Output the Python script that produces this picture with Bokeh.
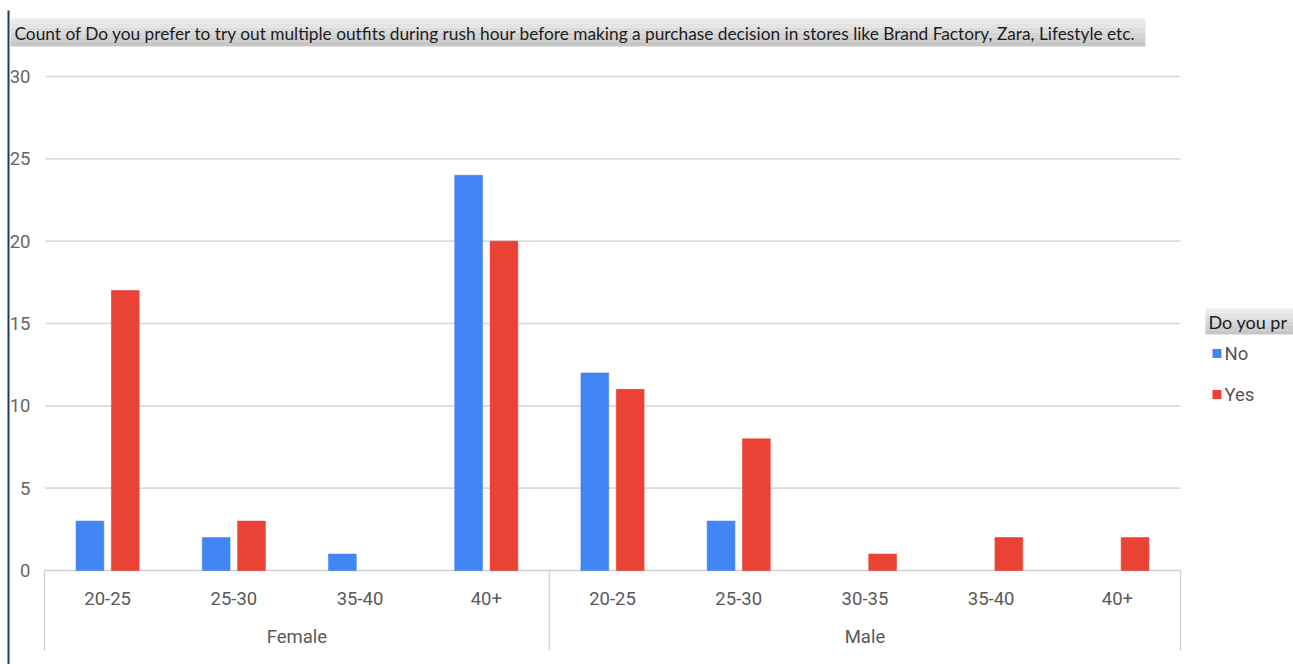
from bokeh.plotting import figure
from bokeh.models import Range1d
from bokeh.core.properties import value
from bokeh.embed import file_html
from bokeh.resources import INLINE

# ---- data -------------------------------------------------------------
genders = ["Female", "Male"]
female_ages = ["20-25", "25-30", "35-40", "40+"]
male_ages = ["20-25", "25-30", "30-35", "35-40", "40+"]
female_no = [3, 2, 1, 24]
female_yes = [17, 3, 0, 20]
male_no = [12, 3, 0, 0, 0]
male_yes = [11, 8, 1, 2, 2]
y_ticks = [0, 5, 10, 15, 20, 25, 30]
series_names = ["No", "Yes"]
series_colors = ["#4285F4", "#EA4335"]
title_text = ("Count of Do you prefer to try out multiple outfits during rush hour before "
              "making a purchase decision in stores like Brand Factory, Zara, Lifestyle etc.")
legend_title = "Do you pr"

# ---- canvas geometry (pixels) ----------------------------------------
W, H = 1293, 664
PX0, PX1 = 44, 1180          # plot area left / right
PY0, PYT = 570, 76           # pixel row of value 0 and of value 30
ncat = len(female_ages) + len(male_ages)
UX = (PX1 - PX0) / ncat
UY = (PY0 - PYT) / 30.0


def dx(px):
    return (px - PX0) / UX


def dy(py):
    return (PY0 - py) / UY


p = figure(width=W, height=H, output_backend="svg", toolbar_location=None,
           x_range=Range1d(dx(0), dx(W)), y_range=Range1d(dy(H), dy(0)),
           x_axis_location=None, y_axis_location=None, min_border=0)
p.grid.visible = False
p.outline_line_color = None
p.background_fill_color = "white"
p.border_fill_color = "white"

AX_FONT = value("Roboto")
HEAD_FONT = value("Lato")

# ---- gridlines & frame lines -----------------------------------------
grid_y = [t for t in y_ticks if t > 0]
p.segment(x0=[dx(45)] * len(grid_y), x1=[ncat] * len(grid_y), y0=grid_y, y1=grid_y,
          line_color="#dadada", line_width=1.6)
p.segment(x0=[0], x1=[ncat], y0=[0], y1=[0], line_color="#cfcfcf", line_width=1.6)
sep_x = [0, len(female_ages), ncat]
p.segment(x0=sep_x, x1=sep_x, y0=[0] * 3, y1=[dy(650)] * 3,
          line_color="#d2d2d2", line_width=1.4)

# ---- bars -------------------------------------------------------------
ages = female_ages + male_ages
no_vals = female_no + male_no
yes_vals = female_yes + male_yes
OFF, BW = 0.14, 0.22
for vals, off, col in [(no_vals, -OFF, series_colors[0]), (yes_vals, OFF, series_colors[1])]:
    xs = [i + 0.5 + off for i, v in enumerate(vals) if v > 0]
    tops = [v for v in vals if v > 0]
    p.vbar(x=xs, top=tops, bottom=0, width=BW, fill_color=col,
           line_color=col, line_alpha=0.6)

# ---- y tick labels ----------------------------------------------------
p.text(x=[dx(30)] * len(y_ticks), y=y_ticks, text=[str(t) for t in y_ticks],
       text_align="right", text_baseline="middle", text_font=AX_FONT,
       text_font_size="18.5px", text_color="#666666")

# ---- category and group labels ---------------------------------------
p.text(x=[i + 0.5 for i in range(ncat)], y=[dy(598)] * ncat, text=ages,
       text_align="center", text_baseline="middle", text_font=AX_FONT,
       text_font_size="18.5px", text_color="#595959")
group_x = [len(female_ages) / 2, len(female_ages) + len(male_ages) / 2]
p.text(x=group_x, y=[dy(636)] * 2, text=genders,
       text_align="center", text_baseline="middle", text_font=AX_FONT,
       text_font_size="18.5px", text_color="#595959")

# ---- title box (soft vertical gradient) ------------------------------
shades = ["#ececec", "#e4e4e4", "#dcdcdc", "#d4d4d4", "#cccccc", "#c6c6c6"]
tb_top, tb_bot = 18, 46
step = (tb_bot - tb_top) / len(shades)
p.quad(left=[dx(10)] * len(shades), right=[dx(1145)] * len(shades),
       top=[dy(tb_top + k * step) for k in range(len(shades))],
       bottom=[dy(tb_top + (k + 1) * step) for k in range(len(shades))],
       fill_color=shades, line_color=None)
p.text(x=[dx(14)], y=[dy(32.5)], text=[title_text], text_align="left",
       text_baseline="middle", text_font=HEAD_FONT, text_font_size="17.3px",
       text_color="#1c1c1c")

# ---- legend -----------------------------------------------------------
lg_top, lg_bot = 308, 334
lstep = (lg_bot - lg_top) / len(shades)
p.quad(left=[dx(1205)] * len(shades), right=[dx(W + 2)] * len(shades),
       top=[dy(lg_top + k * lstep) for k in range(len(shades))],
       bottom=[dy(lg_top + (k + 1) * lstep) for k in range(len(shades))],
       fill_color=shades, line_color=None)
p.text(x=[dx(1208)], y=[dy(321)], text=[legend_title], text_align="left",
       text_baseline="middle", text_font=HEAD_FONT, text_font_size="18px",
       text_color="#1c1c1c")
item_y = [dy(353), dy(394)]
p.scatter(x=[dx(1216.5)] * 2, y=item_y, marker="square", size=9,
          fill_color=series_colors, line_color=None)
p.text(x=[dx(1224)] * 2, y=item_y, text=series_names, text_align="left",
       text_baseline="middle", text_font=AX_FONT, text_font_size="18.5px",
       text_color="#555555")

# ---- page edge rule ---------------------------------------------------
p.segment(x0=[dx(8)], x1=[dx(8)], y0=[dy(10)], y1=[dy(H + 2)],
          line_color="#1f3a60", line_width=2)

open("out.html", "w").write(file_html(p, INLINE))
